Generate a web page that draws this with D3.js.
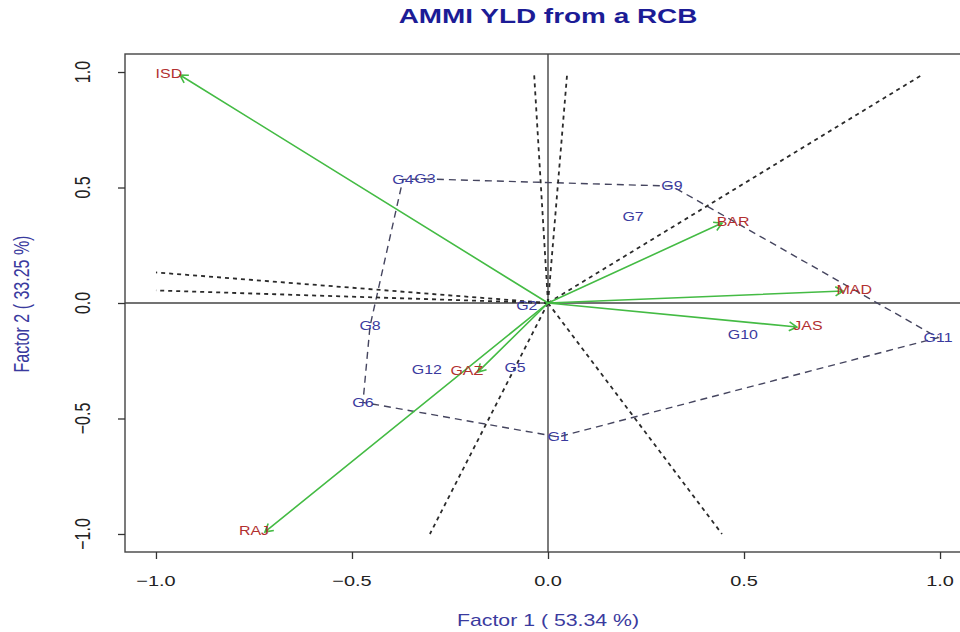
<!DOCTYPE html>
<html>
<head>
<meta charset="utf-8">
<script src="https://cdn.jsdelivr.net/npm/d3@7"></script>
<style>
  html, body { margin: 0; padding: 0; background: #ffffff; }
  svg { display: block; font-family: "Liberation Sans", Arial, sans-serif; }
</style>
</head>
<body>
<svg id="chart" width="960" height="632"></svg>
<script>
(() => {
  // genotype scores (factor 1, factor 2)
  const genotypes = ["G1", "G2", "G3", "G4", "G5", "G6", "G7", "G8", "G9", "G10", "G11", "G12"];
  const genoF1 = [0.026, -0.054, -0.314, -0.37, -0.084, -0.472, 0.217, -0.454, 0.316, 0.497, 0.995, -0.309];
  const genoF2 = [-0.58, -0.013, 0.537, 0.535, -0.28, -0.43, 0.372, -0.10, 0.506, -0.139, -0.15, -0.29];

  // environment scores (arrow tips)
  const environments = ["ISD", "BAR", "MAD", "JAS", "GAZ", "RAJ"];
  const envF1 = [-0.939, 0.444, 0.753, 0.635, -0.179, -0.722];
  const envF2 = [0.987, 0.346, 0.052, -0.104, -0.299, -0.991];

  // genotypes on the outer polygon, in order
  const hullOrder = ["G3", "G9", "G11", "G1", "G6", "G8", "G4"];

  const xTicks = [-1.0, -0.5, 0.0, 0.5, 1.0];
  const yTicks = [-1.0, -0.5, 0.0, 0.5, 1.0];

  const TITLE = "AMMI YLD from a RCB";
  const X_TITLE = "Factor 1 ( 53.34 %)";
  const Y_TITLE = "Factor 2 ( 33.25 %)";

  const GENO_COLOR = "#3a3a9e";
  const ENV_COLOR = "#b23030";
  const ARROW_COLOR = "#44bb44";
  const HULL_COLOR = "#45455f";
  const TITLE_COLOR = "#1c1c96";
  const STRETCH = 1.33;

  const svg = d3.select("#chart");
  const x = d3.scaleLinear().domain([-1.079, 1.079]).range([125, 971]);
  const y = d3.scaleLinear().domain([-1.078, 1.078]).range([552, 54]);

  function stretchedText(g, px, py, str, size, color, opts = {}) {
    const rot = opts.rotate ? " rotate(-90)" : "";
    return g.append("text")
      .attr("transform", `translate(${px},${py}) scale(${STRETCH},1)${rot}`)
      .attr("text-anchor", "middle")
      .attr("dominant-baseline", "central")
      .attr("font-size", size)
      .attr("font-weight", opts.bold ? "bold" : "normal")
      .attr("fill", color)
      .text(str);
  }

  const geno = genotypes.map((name, i) => ({ name, f1: genoF1[i], f2: genoF2[i] }));
  const env = environments.map((name, i) => ({ name, f1: envF1[i], f2: envF2[i] }));
  const hull = hullOrder.map((n) => geno.find((d) => d.name === n));

  // plot frame
  svg.append("rect")
    .attr("x", x.range()[0]).attr("y", y.range()[1])
    .attr("width", x.range()[1] - x.range()[0])
    .attr("height", y.range()[0] - y.range()[1])
    .attr("fill", "none").attr("stroke", "#444").attr("stroke-width", 1.4);

  // axes
  const xAxis = svg.append("g").attr("transform", `translate(0,${y.range()[0]})`)
    .call(d3.axisBottom(x).tickValues(xTicks).tickSize(7).tickFormat(() => ""));
  const yAxis = svg.append("g").attr("transform", `translate(${x.range()[0]},0)`)
    .call(d3.axisLeft(y).tickValues(yTicks).tickSize(7).tickFormat(() => ""));
  [xAxis, yAxis].forEach((a) => {
    a.select(".domain").remove();
    a.selectAll(".tick line").attr("stroke", "#333").attr("stroke-width", 1.3);
  });
  xTicks.forEach((t) => stretchedText(svg, x(t), 581, d3.format(".1f")(t).replace("-", "\u2212"), 15, "#222"));
  yTicks.forEach((t) => stretchedText(svg, 83, y(t), d3.format(".1f")(t).replace("-", "\u2212"), 16, "#222", { rotate: true }));

  // zero lines
  svg.append("line").attr("x1", x.range()[0]).attr("x2", x.range()[1])
    .attr("y1", y(0)).attr("y2", y(0)).attr("stroke", "#444").attr("stroke-width", 1.4);
  svg.append("line").attr("x1", x(0)).attr("x2", x(0))
    .attr("y1", y.range()[0]).attr("y2", y.range()[1]).attr("stroke", "#444").attr("stroke-width", 1.4);

  // polygon around outer genotypes
  svg.append("path")
    .attr("d", d3.line().x((d) => x(d.f1)).y((d) => y(d.f2))(hull) + "Z")
    .attr("fill", "none").attr("stroke", HULL_COLOR)
    .attr("stroke-width", 1.4).attr("stroke-dasharray", "7,5");

  // rays from origin perpendicular to each polygon side
  const box = { xmin: -1, xmax: 1, ymin: -1, ymax: 0.99 };
  const rays = hull.map((a, i) => {
    const b = hull[(i + 1) % hull.length];
    let nx = -(b.f2 - a.f2);
    let ny = b.f1 - a.f1;
    if (nx * (a.f1 + b.f1) + ny * (a.f2 + b.f2) < 0) { nx = -nx; ny = -ny; }
    const tx = nx > 0 ? box.xmax / nx : nx < 0 ? box.xmin / nx : Infinity;
    const ty = ny > 0 ? box.ymax / ny : ny < 0 ? box.ymin / ny : Infinity;
    const t = Math.min(tx, ty);
    return { f1: nx * t, f2: ny * t };
  });
  svg.append("g").selectAll("line").data(rays).join("line")
    .attr("x1", x(0)).attr("y1", y(0))
    .attr("x2", (d) => x(d.f1)).attr("y2", (d) => y(d.f2))
    .attr("stroke", "#2a2a2a").attr("stroke-width", 1.8).attr("stroke-dasharray", "4,4");

  // environment vectors
  const HEAD = 9;
  const arrows = svg.append("g");
  env.forEach((d) => {
    const ex = x(d.f1);
    const ey = y(d.f2);
    const ang = Math.atan2(ey - y(0), ex - x(0));
    const a1 = ang + Math.PI - Math.PI / 6;
    const a2 = ang + Math.PI + Math.PI / 6;
    arrows.append("path")
      .attr("d", `M${x(0)},${y(0)}L${ex},${ey}` +
        `M${ex + HEAD * Math.cos(a1)},${ey + HEAD * Math.sin(a1)}L${ex},${ey}` +
        `L${ex + HEAD * Math.cos(a2)},${ey + HEAD * Math.sin(a2)}`)
      .attr("fill", "none").attr("stroke", ARROW_COLOR).attr("stroke-width", 1.6);
  });

  // labels
  const ENV_LABEL_SHIFT = 11;
  geno.forEach((d) => stretchedText(svg, x(d.f1), y(d.f2), d.name, 12, GENO_COLOR));
  env.forEach((d) => stretchedText(svg, x(d.f1) + Math.sign(d.f1) * ENV_LABEL_SHIFT, y(d.f2) - 1,
    d.name, 12, ENV_COLOR));

  // titles
  stretchedText(svg, 548, 16, TITLE, 21, TITLE_COLOR, { bold: true });
  stretchedText(svg, 548, 620, X_TITLE, 16, GENO_COLOR);
  stretchedText(svg, 22, 304, Y_TITLE, 16, GENO_COLOR, { rotate: true });
})();
</script>
</body>
</html>
